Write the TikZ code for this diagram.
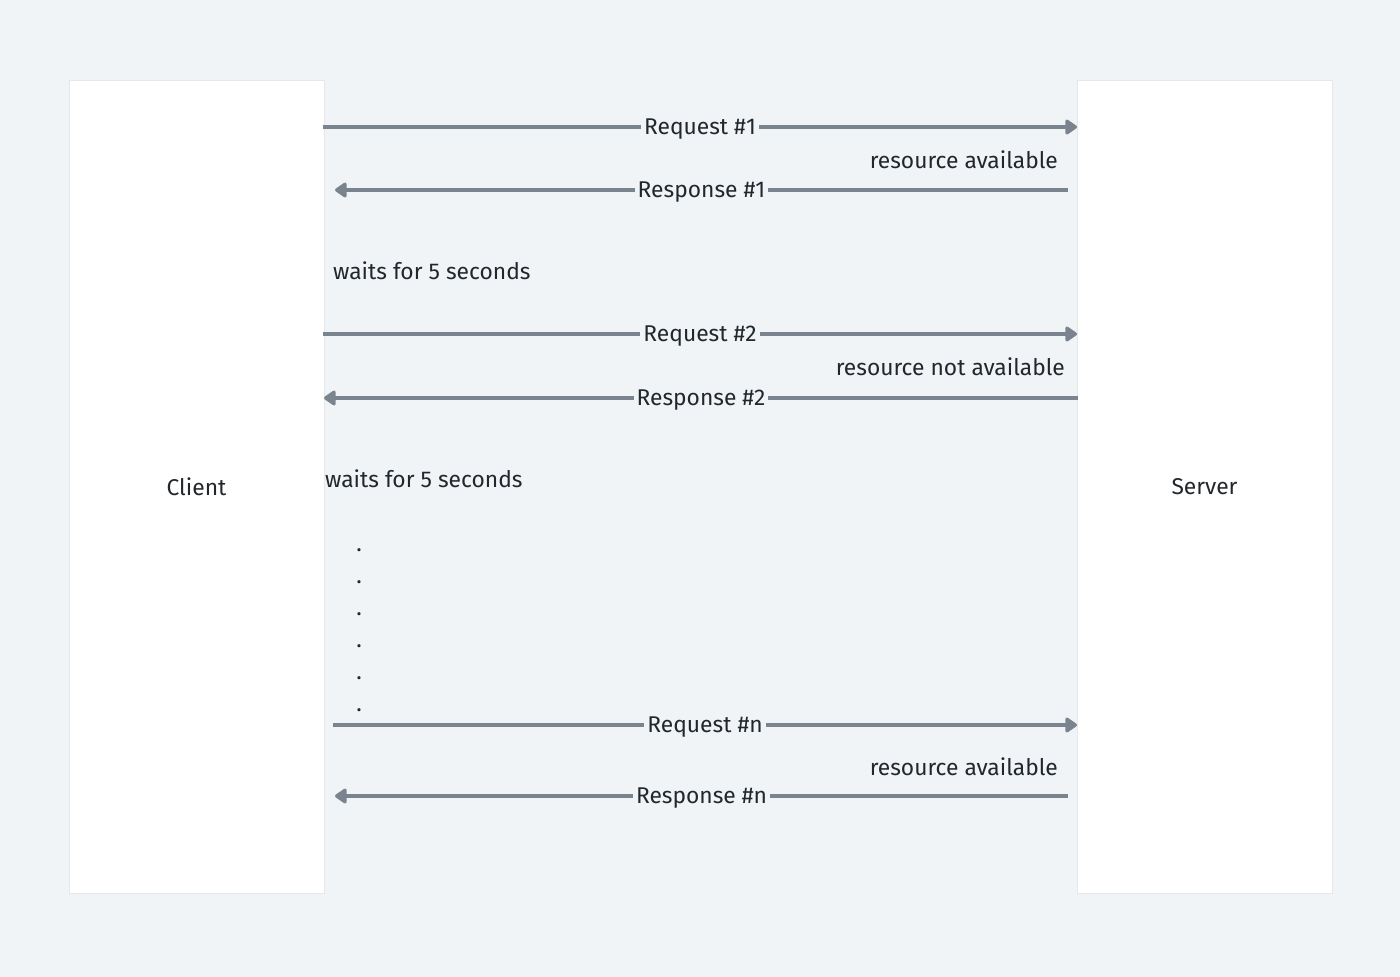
\documentclass[tikz,border=0pt]{standalone}
\usepackage{fontspec}
\setmainfont{Fira Sans}
\usepackage{tikz}
\usetikzlibrary{positioning}
\usetikzlibrary{arrows.meta}
\usepackage{xcolor}
\definecolor{bgcol}{HTML}{F0F4F7}
\definecolor{edgecol}{HTML}{E4E8EC}
\definecolor{arrowcol}{HTML}{7A848E}
\definecolor{textcol}{HTML}{22272C}

\begin{document}
\begin{tikzpicture}[
  x=1pt, y=-1pt,
  font=\fontsize{22.8}{26}\selectfont,
  text=textcol,
  party/.style={draw=edgecol, fill=white, line width=1pt, minimum width=255pt, minimum height=813pt, inner sep=0pt},
  msg/.style={draw=arrowcol, line width=4.5pt, -{Triangle[round, length=13pt, width=17pt]}},
  msglabel/.style={fill=bgcol, inner sep=3pt, midway, yshift=-2pt},
  note/.style={inner sep=0pt}
]

% Canvas
\fill[bgcol] (0,0) rectangle (1400,977);
\useasboundingbox (0,0) rectangle (1400,977);

% Client and server columns
\node[party] (client) at (196.5,486.5) {Client};
\node[party] (server) at (1204.5,486.5) {Server};

% End points of the messages
\coordinate (req1a) at (323,127);  \coordinate (req1b) at (1077,127);
\coordinate (res1a) at (1068,190); \coordinate (res1b) at (335,190);
\coordinate (req2a) at (323,334);  \coordinate (req2b) at (1077,334);
\coordinate (res2a) at (1078,398); \coordinate (res2b) at (324,398);
\coordinate (reqna) at (333,725);  \coordinate (reqnb) at (1077,725);
\coordinate (resna) at (1068,796); \coordinate (resnb) at (335,796);

% First round
\draw[msg] (req1a) -- node[msglabel]{Request \#1} (req1b);
\node[note, anchor=east] (avail1) at (1058,160) {resource available};
\draw[msg] (res1a) -- node[msglabel]{Response \#1} (res1b);
\node[note, anchor=west] (wait1) at (333,271) {waits for 5 seconds};

% Second round
\draw[msg] (req2a) -- node[msglabel]{Request \#2} (req2b);
\node[note, anchor=east] (avail2) at (1065,367) {resource not available};
\draw[msg] (res2a) -- node[msglabel]{Response \#2} (res2b);
\node[note, anchor=west] (wait2) at (325,479) {waits for 5 seconds};

% Repeated rounds
\foreach \i in {0,...,5}
  \node[note, anchor=base] (dot\i) at (359,{551+32*\i}) {.};

% Last round
\draw[msg] (reqna) -- node[msglabel]{Request \#n} (reqnb);
\node[note, anchor=east] (availn) at (1058,767) {resource available};
\draw[msg] (resna) -- node[msglabel]{Response \#n} (resnb);

\end{tikzpicture}
\end{document}
